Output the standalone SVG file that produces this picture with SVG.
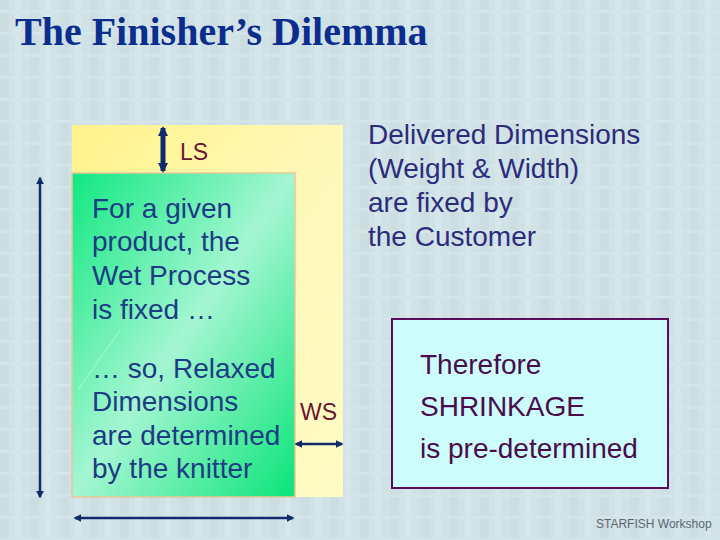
<svg xmlns="http://www.w3.org/2000/svg" width="720" height="540" viewBox="0 0 720 540">
<defs>
<style>
.t{font-family:"Liberation Sans",Arial,sans-serif;font-size:28px}
.g{fill:#1c3c84}
.r{fill:#2c2c7c}
.p{fill:#4a0c4a}
.lab{font-family:"Liberation Sans",Arial,sans-serif;font-size:23px;fill:#6a1434}
.arr{stroke:#102a6e;fill:none}
</style>
<pattern id="tex" width="30" height="22" patternUnits="userSpaceOnUse">
<rect width="30" height="22" fill="#d1e2e7"/>
<rect x="0" y="0" width="9" height="22" fill="#cddee3"/>
<rect x="15" y="0" width="6" height="22" fill="#d6e7eb"/>
<rect x="0" y="10" width="30" height="3" fill="#d4e5e9"/>
</pattern>
<linearGradient id="yel" x1="0" y1="0" x2="1" y2="1">
<stop offset="0" stop-color="#fff38a"/>
<stop offset="0.5" stop-color="#fff8b8"/>
<stop offset="1" stop-color="#fffbc4"/>
</linearGradient>
<linearGradient id="grn" x1="0" y1="0" x2="1" y2="1">
<stop offset="0" stop-color="#10e880"/>
<stop offset="0.5" stop-color="#a4f6d2"/>
<stop offset="1" stop-color="#0ae478"/>
</linearGradient>
<marker id="ah" viewBox="0 0 10 10" refX="8" refY="5" markerWidth="2" markerHeight="2" orient="auto-start-reverse">
<path d="M0,0 L10,5 L0,10 z" fill="#102a6e"/>
</marker>
<marker id="ahs" viewBox="0 0 10 10" refX="8" refY="5" markerWidth="3.2" markerHeight="3.2" orient="auto-start-reverse">
<path d="M0,0 L10,5 L0,10 z" fill="#102a6e"/>
</marker>
</defs>
<rect width="720" height="540" fill="url(#tex)"/>
<text x="15" y="45" style="font-family:'Liberation Serif','Times New Roman',serif;font-size:40px;font-weight:bold;fill:#0b2e8e">The Finisher’s Dilemma</text>

<g id="delivered">
<rect x="72" y="125" width="271" height="372" fill="url(#yel)"/>
</g>
<g id="relaxed">
<rect x="72" y="173" width="223" height="324" fill="url(#grn)" stroke="#e8c89a" stroke-width="1.5"/>
<line x1="78" y1="390" x2="120" y2="330" stroke="#ffffff" stroke-opacity="0.4" stroke-width="1"/>
<line x1="297" y1="285" x2="342" y2="314" stroke="#ffffff" stroke-opacity="0.5" stroke-width="1" stroke-dasharray="2 2"/>
<text class="t g"><tspan x="92" y="218">For a given</tspan><tspan x="92" y="251">product, the</tspan><tspan x="92" y="285">Wet Process</tspan><tspan x="92" y="319">is fixed …</tspan><tspan x="92" y="378">… so, Relaxed</tspan><tspan x="92" y="411">Dimensions</tspan><tspan x="92" y="445">are determined</tspan><tspan x="92" y="478">by the knitter</tspan></text>
</g>
<g id="connectors">
<line class="arr" x1="163" y1="128" x2="163" y2="171" stroke-width="5" marker-start="url(#ah)" marker-end="url(#ah)"/>
<line class="arr" x1="40" y1="178" x2="40" y2="497" stroke-width="2.5" marker-start="url(#ahs)" marker-end="url(#ahs)"/>
<line class="arr" x1="75" y1="518" x2="293" y2="518" stroke-width="2.5" marker-start="url(#ahs)" marker-end="url(#ahs)"/>
<line class="arr" x1="296" y1="444" x2="342" y2="444" stroke-width="2.5" marker-start="url(#ahs)" marker-end="url(#ahs)"/>
</g>
<g id="labels">
<text class="lab" x="180" y="160">LS</text>
<text class="lab" x="300" y="420">WS</text>
</g>
<g id="customer">
<text class="t r"><tspan x="368" y="144">Delivered Dimensions</tspan><tspan x="368" y="178">(Weight &amp; Width)</tspan><tspan x="368" y="212">are fixed by</tspan><tspan x="368" y="246">the Customer</tspan></text>
</g>
<g id="shrinkage">
<rect x="392" y="319" width="276" height="169" fill="#ccfcfc" stroke="#5a0c5a" stroke-width="2"/>
<text class="t p"><tspan x="420" y="374">Therefore</tspan><tspan x="420" y="416">SHRINKAGE</tspan><tspan x="420" y="458">is pre-determined</tspan></text>
</g>
<text x="596" y="528" style="font-family:'Liberation Sans',Arial,sans-serif;font-size:12px;fill:#5c6670">STARFISH Workshop</text>
</svg>
